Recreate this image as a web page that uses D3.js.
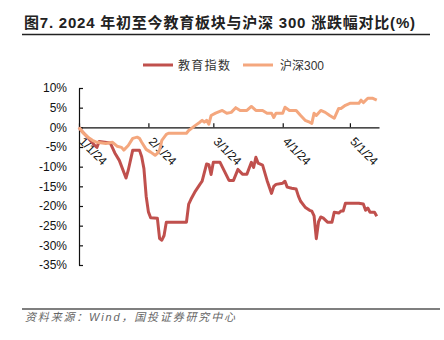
<!DOCTYPE html>
<html><head><meta charset="utf-8">
<script src="https://cdn.jsdelivr.net/npm/d3@7/dist/d3.min.js"></script>
<style>
body{margin:0;background:#fff}
text{font-family:"Liberation Sans",Arial,"Noto Sans CJK SC",sans-serif}
</style></head>
<body><svg id="c" width="444" height="340"></svg>
<script>
// ---- data ----
const seriesNames = ["教育指数", "沪深300"];
const eduDates = ["2024-01-01","2024-01-02","2024-01-04","2024-01-06","2024-01-08","2024-01-09","2024-01-10","2024-01-15","2024-01-17","2024-01-19","2024-01-22","2024-01-23","2024-01-25","2024-01-28","2024-01-29","2024-01-30","2024-01-31","2024-02-01","2024-02-02","2024-02-05","2024-02-06","2024-02-07","2024-02-08","2024-02-09","2024-02-18","2024-02-19","2024-02-20","2024-02-22","2024-02-24","2024-02-25","2024-02-27","2024-02-28","2024-02-29","2024-03-01","2024-03-04","2024-03-06","2024-03-08","2024-03-10","2024-03-12","2024-03-14","2024-03-16","2024-03-18","2024-03-19","2024-03-20","2024-03-21","2024-03-23","2024-03-25","2024-03-27","2024-03-28","2024-03-29","2024-04-01","2024-04-02","2024-04-03","2024-04-05","2024-04-07","2024-04-08","2024-04-09","2024-04-11","2024-04-13","2024-04-14","2024-04-15","2024-04-16","2024-04-17","2024-04-18","2024-04-19","2024-04-21","2024-04-23","2024-04-24","2024-04-26","2024-04-27","2024-04-28","2024-04-29","2024-05-05","2024-05-07","2024-05-08","2024-05-09","2024-05-10","2024-05-12","2024-05-13"];
const eduValues = [0,-0.8,-2.0,-3.3,-4.6,-5.1,-3.6,-4.0,-6.5,-8.4,-12.9,-10.9,-5.8,-5.8,-7.5,-10.5,-17.5,-21.5,-23.0,-23.1,-28.3,-28.7,-27.5,-24.1,-24.1,-19.5,-18.3,-16.2,-14.5,-13.7,-9.3,-9.5,-12.0,-8.9,-8.9,-11.2,-13.5,-13.5,-10.7,-11.9,-11.9,-8.9,-10.2,-7.6,-9.1,-9.6,-13.5,-16.8,-15.0,-14.5,-14.2,-13.7,-15.2,-15.5,-15.7,-17.5,-18.8,-20.3,-21.1,-21.3,-22.5,-28.3,-24.0,-22.8,-23.0,-24.1,-24.1,-21.6,-21.8,-21.3,-21.3,-19.3,-19.3,-19.5,-21.1,-20.5,-21.6,-21.6,-22.6];
const hsDates = ["2024-01-01","2024-01-03","2024-01-05","2024-01-07","2024-01-09","2024-01-13","2024-01-16","2024-01-18","2024-01-20","2024-01-21","2024-01-23","2024-01-25","2024-01-27","2024-01-28","2024-01-29","2024-01-31","2024-02-02","2024-02-04","2024-02-05","2024-02-06","2024-02-07","2024-02-09","2024-02-10","2024-02-18","2024-02-19","2024-02-22","2024-02-24","2024-02-25","2024-02-26","2024-02-27","2024-02-28","2024-02-29","2024-03-02","2024-03-05","2024-03-07","2024-03-09","2024-03-11","2024-03-13","2024-03-16","2024-03-18","2024-03-20","2024-03-23","2024-03-25","2024-03-27","2024-03-28","2024-03-29","2024-04-01","2024-04-02","2024-04-04","2024-04-07","2024-04-09","2024-04-11","2024-04-13","2024-04-14","2024-04-15","2024-04-16","2024-04-18","2024-04-20","2024-04-22","2024-04-24","2024-04-26","2024-04-27","2024-04-29","2024-05-01","2024-05-05","2024-05-06","2024-05-07","2024-05-09","2024-05-11","2024-05-13"];
const hsValues = [0,-1.5,-2.5,-3.3,-3.8,-4.1,-3.8,-4.8,-5.1,-5.8,-4.6,-2.8,-2.5,-2.8,-3.8,-5.6,-6.3,-7.1,-6.6,-5.8,-3.3,-1.8,-1.5,-1.5,-0.8,0.5,1.3,1.8,1.3,1.8,0.8,3.0,3.6,4.3,3.6,3.8,5.0,4.3,4.3,5.3,4.3,4.3,3.6,3.6,2.5,3.6,3.6,5.1,4.3,4.3,3.0,1.8,1.3,1.0,3.6,3.0,4.3,3.8,3.0,2.3,4.8,4.8,5.6,6.1,6.1,6.9,6.3,7.4,7.4,6.9];
const yTicks = [10,5,0,-5,-10,-15,-20,-25,-30,-35];
const xTickDates = ["2024-01-01","2024-02-01","2024-03-01","2024-04-01","2024-05-01"];
const xTickLabels = ["1/1/24","2/1/24","3/1/24","4/1/24","5/1/24"];
const titleText = "图7. 2024 年初至今教育板块与沪深 300 涨跌幅对比(%)";
const sourceText = "资料来源：Wind，国投证券研究中心";

// ---- drawing ----
const svg = d3.select("#c");
const parse = d3.utcParse("%Y-%m-%d");
const colors = ["#C0504D", "#F4A77E"];

const x = d3.scaleUtc().domain([parse("2024-01-01"), parse("2024-05-14")]).range([79, 379]);
const y = d3.scaleLinear().domain([-35, 10]).range([265, 88]);

// title
svg.append("text").attr("x", 24).attr("y", 28)
  .attr("font-size", 15).attr("font-weight", "bold").attr("fill", "#222")
  .attr("textLength", 391).attr("lengthAdjust", "spacing")
  .text(titleText);
svg.append("line").attr("x1", 22).attr("x2", 430).attr("y1", 34.5).attr("y2", 34.5)
  .attr("stroke", "#222").attr("stroke-width", 1.6);

// legend
const legend = [[143, 178], [243, 280]];
seriesNames.forEach((n, i) => {
  svg.append("line").attr("x1", legend[i][0]).attr("x2", legend[i][0] + 30)
    .attr("y1", 65).attr("y2", 65).attr("stroke", colors[i]).attr("stroke-width", 3);
  svg.append("text").attr("x", legend[i][1]).attr("y", 69.5).attr("font-size", 12)
    .attr("fill", "#333").attr("letter-spacing", i === 0 ? 1.3 : 0).text(n);
});

// y axis
const yAxis = svg.append("g").attr("transform", "translate(79,0)")
  .call(d3.axisLeft(y).tickValues(yTicks).tickFormat(d => d + "%").tickSizeInner(-4).tickSizeOuter(0).tickPadding(12));
yAxis.selectAll("text").attr("font-size", 12).attr("fill", "#111")
  .style("font-family", '"Liberation Sans",Arial,sans-serif');
yAxis.selectAll("path,line").attr("stroke", "#111").attr("stroke-width", 1.2);

// x axis at 0%
const xAxis = svg.append("g").attr("transform", `translate(0,${y(0)})`)
  .call(d3.axisBottom(x).tickValues(xTickDates.map(parse)).tickFormat((d, i) => xTickLabels[i]).tickSizeInner(-4).tickSizeOuter(0));
xAxis.selectAll("path,line").attr("stroke", "#111").attr("stroke-width", 1.2);
xAxis.selectAll("text").attr("font-size", 12).attr("fill", "#111")
  .style("font-family", '"Liberation Sans",Arial,sans-serif')
  .attr("x", 0).attr("y", 0).attr("dy", 0)
  .attr("text-anchor", "start")
  .attr("transform", "translate(-1,15) rotate(45)");

// lines
const line = d3.line().x(d => x(d[0])).y(d => y(d[1])).curve(d3.curveLinear);
const hsData = hsDates.map((d, i) => [parse(d), hsValues[i]]);
const eduData = eduDates.map((d, i) => [parse(d), eduValues[i]]);
svg.append("path").datum(eduData).attr("d", line).attr("fill", "none")
  .attr("stroke", colors[0]).attr("stroke-width", 3).attr("stroke-linejoin", "round");
svg.append("path").datum(hsData).attr("d", line).attr("fill", "none")
  .attr("stroke", colors[1]).attr("stroke-width", 3).attr("stroke-linejoin", "round");

// footer
svg.append("line").attr("x1", 22).attr("x2", 440).attr("y1", 309).attr("y2", 309)
  .attr("stroke", "#555").attr("stroke-width", 1.4);
svg.append("text").attr("x", 25).attr("y", 321).attr("font-size", 11)
  .attr("fill", "#666").attr("font-style", "italic")
  .attr("textLength", 210).attr("lengthAdjust", "spacing")
  .text(sourceText);
</script></body></html>
